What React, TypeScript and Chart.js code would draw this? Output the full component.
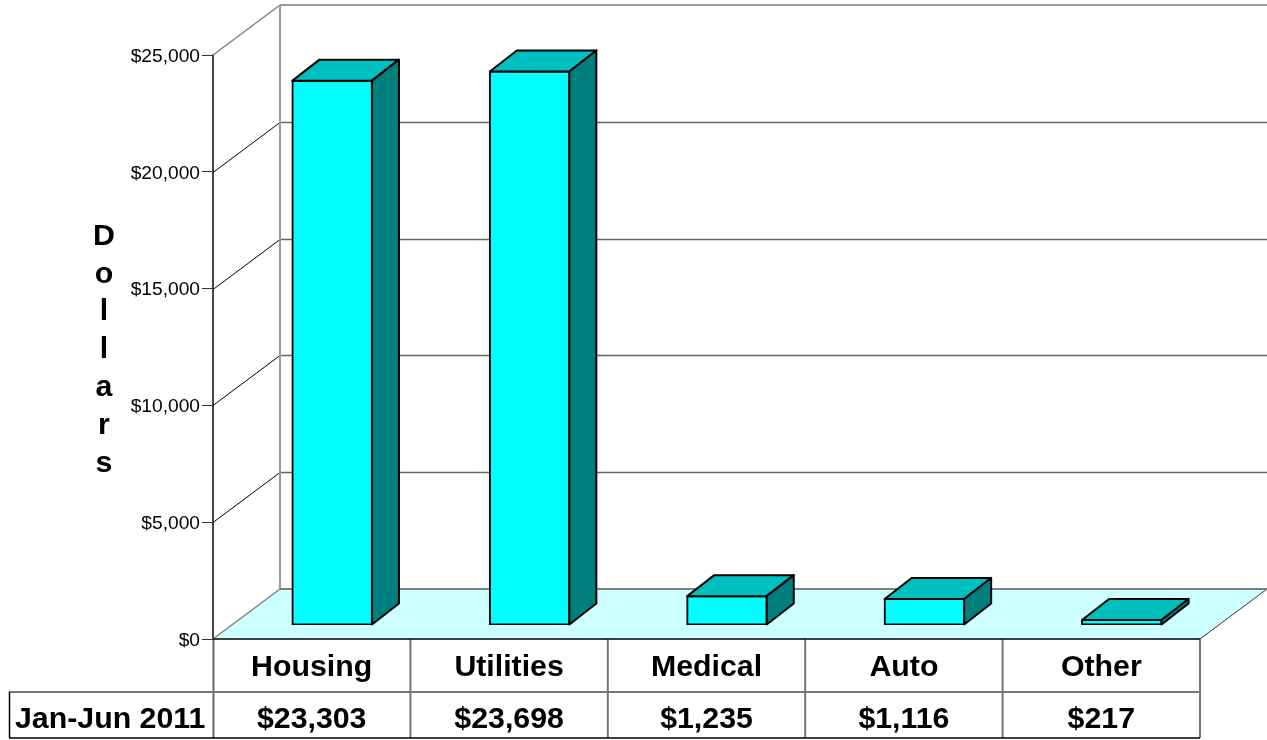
import React, { useEffect, useRef } from "react";
import Chart from "chart.js/auto";

const categories = ["Housing", "Utilities", "Medical", "Auto", "Other"];
const seriesName = "Jan-Jun 2011";
const seriesValues = [23303, 23698, 1235, 1116, 217];
const axisTitle = ["D", "o", "l", "l", "a", "r", "s"];
const axisMax = 25000;
const axisStep = 5000;

const FONT = '"Liberation Sans", Arial, sans-serif';
const money = (v: number) => "$" + Number(v).toLocaleString("en-US");

const WALL_DX = 67;
const WALL_DY = 50;
const BAR_DX = 20.5;
const BAR_DY = 14;
const DEPTH_X = 27;
const DEPTH_Y = 21;

const line = (ctx: any, x1: number, y1: number, x2: number, y2: number, color: string, w = 1) => {
  ctx.beginPath();
  ctx.moveTo(x1, y1);
  ctx.lineTo(x2, y2);
  ctx.strokeStyle = color;
  ctx.lineWidth = w;
  ctx.stroke();
};

const poly = (ctx: any, pts: number[][], fill: string) => {
  ctx.beginPath();
  pts.forEach((p, i) => (i ? ctx.lineTo(p[0], p[1]) : ctx.moveTo(p[0], p[1])));
  ctx.closePath();
  ctx.fillStyle = fill;
  ctx.fill();
  ctx.strokeStyle = "#000";
  ctx.lineWidth = 2;
  ctx.lineJoin = "round";
  ctx.stroke();
};

const scene = {
  id: "scene",
  beforeDatasetsDraw(chart: any) {
    const { ctx, scales } = chart;
    const y = scales.y;
    const x = scales.x;
    const left = chart.chartArea.left;
    const right = chart.chartArea.right;
    const y0 = Math.round(y.getPixelForValue(0));
    const yTop = Math.round(y.getPixelForValue(axisMax));
    ctx.save();
    // floor
    ctx.beginPath();
    ctx.moveTo(left, y0);
    ctx.lineTo(left + WALL_DX, y0 - WALL_DY);
    ctx.lineTo(right + WALL_DX, y0 - WALL_DY);
    ctx.lineTo(right, y0);
    ctx.closePath();
    ctx.fillStyle = "#CCFFFF";
    ctx.fill();
    line(ctx, left, y0, left + WALL_DX, y0 - WALL_DY, "#808080", 1.5);
    line(ctx, right, y0, right + WALL_DX, y0 - WALL_DY, "#333", 1);
    // grid on walls
    for (let v = axisStep; v < axisMax; v += axisStep) {
      const py = Math.round(y.getPixelForValue(v)) + 0.5;
      line(ctx, left, py, left + WALL_DX, py - WALL_DY, "#000", 1);
      line(ctx, left + WALL_DX, py - WALL_DY, right + WALL_DX, py - WALL_DY, "#666", 1.5);
    }
    line(ctx, left, yTop, left + WALL_DX, yTop - WALL_DY, "#808080", 1.5);
    line(ctx, left + WALL_DX, yTop - WALL_DY, right + WALL_DX, yTop - WALL_DY, "#999", 2);
    line(ctx, left + WALL_DX, yTop - WALL_DY, left + WALL_DX, y0 - WALL_DY, "#999", 2);
    line(ctx, left + WALL_DX, y0 - WALL_DY, right + WALL_DX, y0 - WALL_DY, "#808080", 2);
    // data table
    const tableTop = y0;
    const rowLine = 692;
    const bottom = 738;
    const tableLeft = 9;
    const step = x.getPixelForTick(1) - x.getPixelForTick(0);
    categories.forEach((_, i) => {
      const px = x.getPixelForTick(i) + step / 2;
      line(ctx, px, tableTop, px, bottom, "#777", 2);
    });
    line(ctx, left + 0.5, tableTop, left + 0.5, bottom, "#666", 2);
    line(ctx, tableLeft, rowLine, right, rowLine, "#777", 2);
    line(ctx, tableLeft, bottom, right, bottom, "#000", 1.5);
    line(ctx, tableLeft + 0.5, rowLine, tableLeft + 0.5, bottom, "#000", 1.5);
    line(ctx, left, tableTop, right, tableTop, "#000", 1.5);
    // texts outside scales
    ctx.fillStyle = "#000";
    ctx.font = `bold 30.3px ${FONT}`;
    ctx.textBaseline = "middle";
    ctx.textAlign = "left";
    ctx.fillText(chart.data.datasets[0].label, 15, 720);
    ctx.textAlign = "center";
    axisTitle.forEach((c, i) => ctx.fillText(c, 104, 236.5 + i * 37.8));
    ctx.restore();
  },
  beforeDatasetDraw(chart: any) {
    chart.ctx.save();
    chart.ctx.translate(BAR_DX, -BAR_DY);
  },
  afterDatasetDraw(chart: any, args: any) {
    const { ctx } = chart;
    args.meta.data.forEach((el: any) => {
      const { x, y, base, width } = el.getProps(["x", "y", "base", "width"], true);
      const l = x - width / 2;
      const r = x + width / 2;
      poly(ctx, [[l, y], [l + DEPTH_X, y - DEPTH_Y], [r + DEPTH_X, y - DEPTH_Y], [r, y]], "#00BFBF");
      poly(ctx, [[r, y], [r + DEPTH_X, y - DEPTH_Y], [r + DEPTH_X, base - DEPTH_Y], [r, base]], "#007F7F");
    });
    ctx.restore();
  },
};

export default function App() {
  const ref = useRef<HTMLCanvasElement>(null);
  useEffect(() => {
    const chart = new Chart(ref.current as HTMLCanvasElement, {
      type: "bar",
      data: {
        labels: categories.map((c, i) => [c, money(seriesValues[i])]),
        datasets: [
          {
            label: seriesName,
            data: seriesValues,
            backgroundColor: "#00FFFF",
            borderColor: "#000",
            borderWidth: 2,
            borderSkipped: false,
            inflateAmount: 1,
            barThickness: 79.5,
          },
        ],
      },
      options: {
        responsive: false,
        animation: false,
        layout: { padding: { top: 55, right: 67, left: 0, bottom: 0 } },
        plugins: { legend: { display: false }, title: { display: false }, tooltip: { enabled: false } },
        scales: {
          y: {
            min: 0,
            max: axisMax,
            afterFit: (s: any) => {
              s.width = 213;
            },
            ticks: {
              stepSize: axisStep,
              callback: (v: any) => money(v),
              color: "#000",
              padding: 2,
              labelOffset: 1.5,
              font: { family: FONT, size: 19.2 },
            },
            grid: { drawOnChartArea: false, drawTicks: true, tickLength: 11, color: "#333" },
            border: { display: true, color: "#444", width: 2 },
          },
          x: {
            afterFit: (s: any) => {
              s.height = 101;
            },
            ticks: {
              color: "#000",
              padding: -5,
              maxRotation: 0,
              autoSkip: false,
              font: { family: FONT, size: 30.3, weight: "bold", lineHeight: 1.716 },
            },
            grid: { display: false },
            border: { display: false },
          },
        },
      },
      plugins: [scene],
    } as any);
    return () => chart.destroy();
  }, []);
  return (
    <div style={{ position: "fixed", left: 0, top: 0, width: 1267, height: 740, background: "#fff" }}>
      <canvas ref={ref} width={1267} height={740} style={{ display: "block" }} />
    </div>
  );
}
